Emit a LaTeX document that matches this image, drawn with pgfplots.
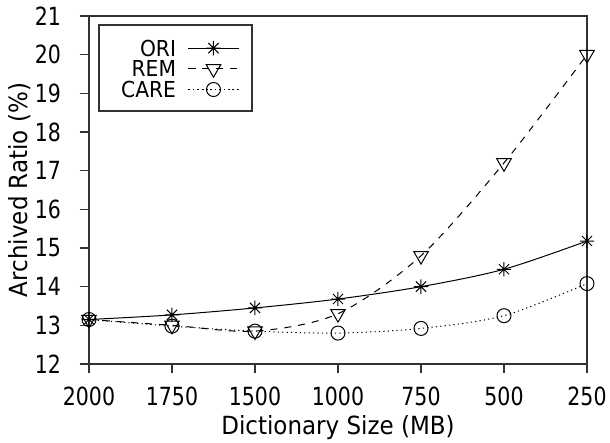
\documentclass[border=0pt]{standalone}
\usepackage{fontspec}
\setmainfont{DejaVu Sans}
\newfontfamily\tickfont{DejaVu Sans}[FakeStretch=0.82]
\newfontfamily\labfont{DejaVu Sans}[FakeStretch=0.92]
\usepackage{pgfplots}
\pgfplotsset{compat=1.18}
\pgfdeclareplotmark{star8}{%
  \pgfpathmoveto{\pgfqpoint{-\pgfplotmarksize}{0pt}}\pgfpathlineto{\pgfqpoint{\pgfplotmarksize}{0pt}}%
  \pgfpathmoveto{\pgfqpoint{0pt}{-\pgfplotmarksize}}\pgfpathlineto{\pgfqpoint{0pt}{\pgfplotmarksize}}%
  \pgfpathmoveto{\pgfqpoint{-0.707\pgfplotmarksize}{-0.707\pgfplotmarksize}}\pgfpathlineto{\pgfqpoint{0.707\pgfplotmarksize}{0.707\pgfplotmarksize}}%
  \pgfpathmoveto{\pgfqpoint{-0.707\pgfplotmarksize}{0.707\pgfplotmarksize}}\pgfpathlineto{\pgfqpoint{0.707\pgfplotmarksize}{-0.707\pgfplotmarksize}}%
  \pgfusepathqstroke}
\begin{document}
\begin{tikzpicture}
\useasboundingbox (-44.5pt,-39.5pt) rectangle (260.5pt,182pt);
\begin{axis}[
  scale only axis,
  width=249pt, height=174pt,
  xmin=0, xmax=6, ymin=12, ymax=21,
  xtick={0,...,6},
  xticklabels={2000,1750,1500,1000,750,500,250},
  ytick={12,...,21},
  tick align=outside,
  xtick pos=bottom, ytick pos=left,
  major tick length=4.5pt,
  axis line style={black!80, line width=0.6pt},
  every tick/.style={black!80, line width=0.6pt},
  tick label style={font=\tickfont\fontsize{12.5}{14}\selectfont, inner sep=0pt},
  yticklabel style={anchor=east, xshift=-9.3pt},
  xticklabel style={anchor=north, yshift=-7pt},
  label style={font=\labfont\fontsize{12.5}{14}\selectfont},
  /pgf/number format/assume math mode=true,
  xlabel={Dictionary Size (MB)},
  ylabel={Archived Ratio (\%)},
  xlabel style={at={(axis description cs:0.5,-0.182)}, anchor=center},
  ylabel style={at={(axis description cs:-0.14,0.5)}, anchor=center, rotate=0},
  clip=false,
  legend cell align=right,
  legend plot pos=right,
  legend style={draw=none, fill=none, at={(axis description cs:0.302,0.9386)}, anchor=north east,
    inner sep=0pt, row sep=0pt, column sep=6pt,
    font=\labfont\fontsize{11}{13}\selectfont,
    nodes={inner sep=0pt, text height=9.175pt, text depth=1.175pt}},
  legend image code/.code={%
    \draw[#1, mark repeat=2, mark phase=2] plot coordinates {(0pt,0pt) (12.5pt,0pt) (25pt,0pt)};},
]
\draw[black!80, line width=0.6pt] (axis description cs:0,1) ++(5pt,-4.5pt) rectangle ++(76.5pt,-43pt);
\addplot[black, line width=0.5pt, smooth, mark=star8, mark size=3.6pt, mark options={solid}]
  coordinates {(0,13.15) (1,13.27) (2,13.45) (3,13.68) (4,14.0) (5,14.45) (6,15.18)};
\addlegendentry{ORI}
\addplot[black, line width=0.5pt, smooth, dash pattern=on 3.5pt off 3.5pt, mark=triangle, mark size=4.2pt, mark options={solid, rotate=180}]
  coordinates {(0,13.15) (1,13.0) (2,12.85) (3,13.3) (4,14.8) (5,17.2) (6,20.0)};
\addlegendentry{REM}
\addplot[black, line width=0.5pt, smooth, dash pattern=on 0.6pt off 1.6pt, mark=o, mark size=3.5pt, mark options={solid}]
  coordinates {(0,13.15) (1,12.98) (2,12.85) (3,12.8) (4,12.92) (5,13.25) (6,14.08)};
\addlegendentry{CARE}
\end{axis}
\end{tikzpicture}
\end{document}
